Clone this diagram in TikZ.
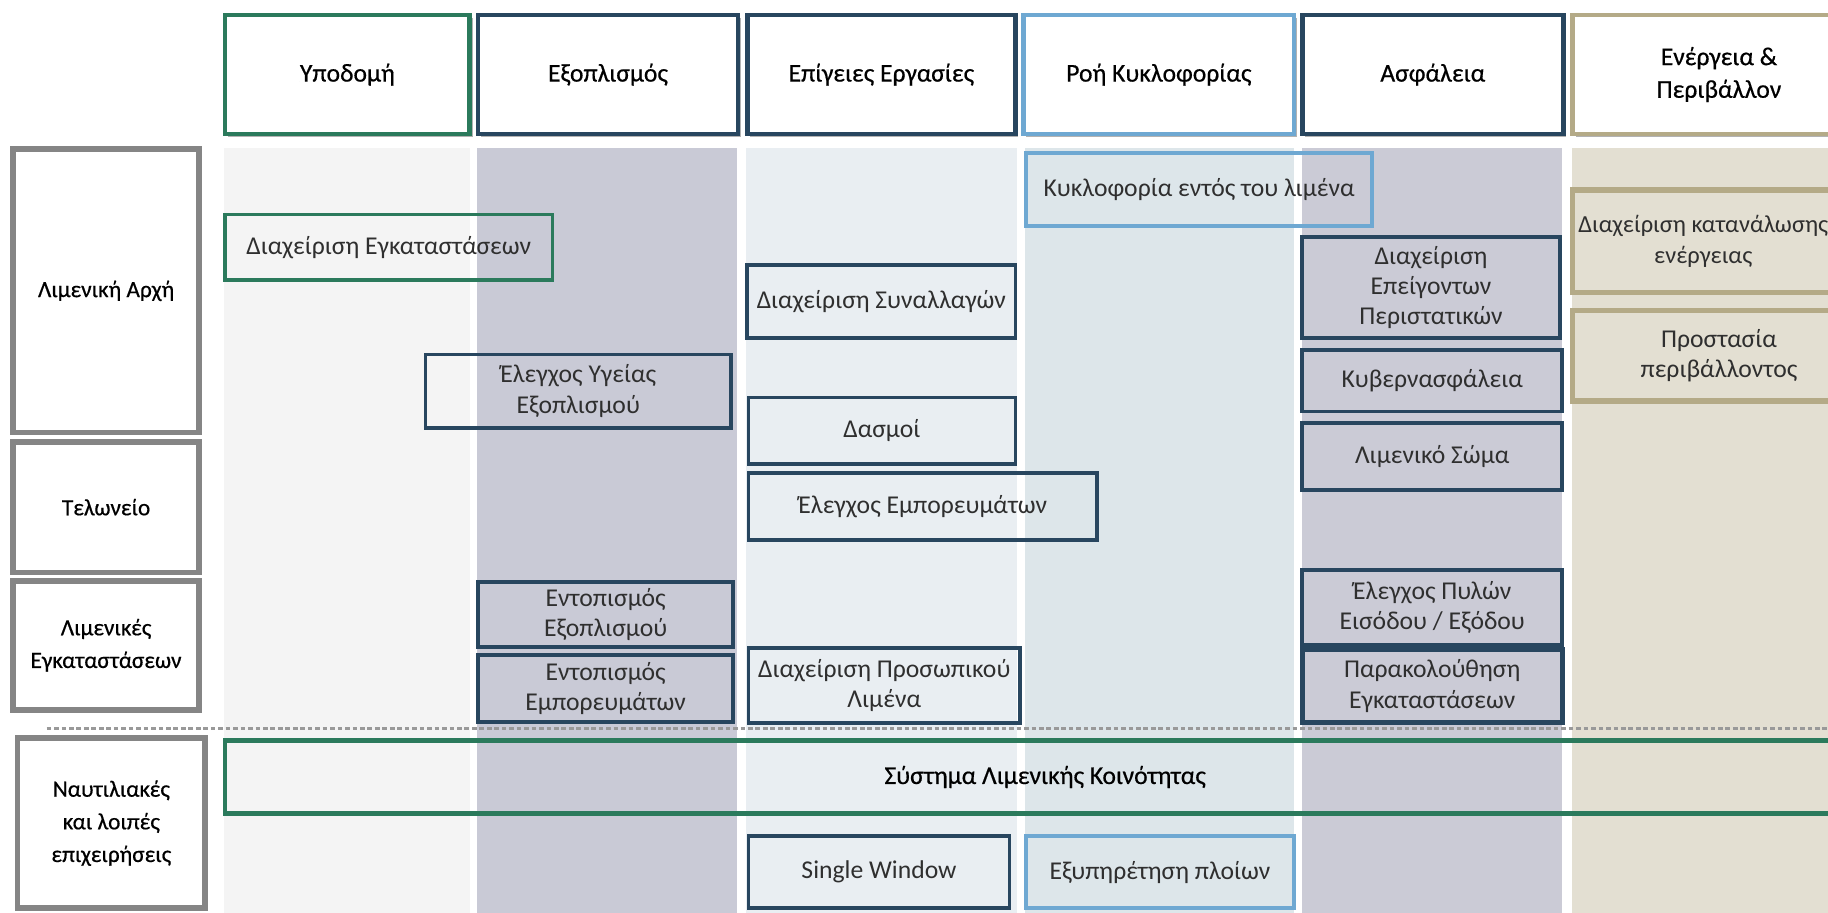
\documentclass[tikz,border=0pt]{standalone}
\usepackage{fontspec}
\setmainfont{Carlito}
\usetikzlibrary{shadows}

% frame colours
\definecolor{cgreen}{HTML}{2B7A5C}
\definecolor{cnavy}{HTML}{28465F}
\definecolor{csky}{HTML}{6EA8D2}
\definecolor{ctan}{HTML}{B4AA87}
\definecolor{cgrey}{HTML}{858585}
% lane fills
\definecolor{lane1}{HTML}{F4F4F4}
\definecolor{lane2}{HTML}{C9CAD6}
\definecolor{lane3}{HTML}{E9EEF2}
\definecolor{lane4}{HTML}{DDE6EA}
\definecolor{lane5}{HTML}{CBCBD6}
\definecolor{lane6}{HTML}{E3DFD2}
\definecolor{ctext}{HTML}{2F2F2F}

% place a named box by its corners (x1,y1) (x2,y2)
\newcommand\cellbox[7]{%
  \node[#2, minimum width={(#5-#3)*0.5pt}, minimum height={(#6-#4)*0.5pt}]
    (#1) at ({(#3+#5)/2},{(#4+#6)/2}) {#7};}

\begin{document}
\begin{tikzpicture}[x=0.5pt,y=-0.5pt,
  base/.style={draw, inner sep=0pt, outer sep=0pt, align=center,
    font=\fontsize{11}{13}\selectfont, text=ctext},
  softshadow/.style={drop shadow={shadow xshift=1.2pt, shadow yshift=-1.2pt,
    opacity=0.3, fill=black}},
  heavy/.style={font=\fontsize{11}{14}\selectfont\addfontfeature{FakeBold=0.5}},
  colhead/.style={base, line width=2pt, fill=white, softshadow, text=black, heavy},
  rowhead/.style={base, line width=2.5pt, draw=cgrey, fill=white, softshadow,
    text=black, font=\fontsize{10}{14}\selectfont\addfontfeature{FakeBold=0.5}},
  navybox/.style={base, line width=1.6pt, draw=cnavy},
  greenbox/.style={base, line width=1.6pt, draw=cgreen},
  skybox/.style={base, line width=1.6pt, draw=csky},
  tanbox/.style={base, line width=2.2pt, draw=ctan, fill=lane6, softshadow},
  lane/.style={draw=none, inner sep=0pt, outer sep=0pt},
  divider/.style={draw=gray!80, line width=1pt, dash pattern=on 2pt off 1.2pt}
]
\useasboundingbox (0,0) rectangle (1568,783);
\clip (0,0) rectangle (1568,783);

% lanes behind the grid
\cellbox{l1}{lane, fill=lane1}{192}{127}{403}{783}{}
\cellbox{l2}{lane, fill=lane2}{409}{127}{632}{783}{}
\cellbox{l3}{lane, fill=lane3}{640}{127}{872}{783}{}
\cellbox{l4}{lane, fill=lane4}{879}{127}{1110}{783}{}
\cellbox{l5}{lane, fill=lane5}{1117}{127}{1340}{783}{}
\cellbox{l6}{lane, fill=lane6}{1348}{127}{1580}{783}{}

% column headings
\cellbox{h1}{colhead, draw=cgreen}{193}{13}{403}{115}{Υποδομή}
\cellbox{h2}{colhead, draw=cnavy}{410}{13}{633}{115}{Εξοπλισμός}
\cellbox{h3}{colhead, draw=cnavy}{641}{13}{871}{115}{Επίγειες Εργασίες}
\cellbox{h4}{colhead, draw=csky}{878}{13}{1110}{115}{Ροή Κυκλοφορίας}
\cellbox{h5}{colhead, draw=cnavy}{1117}{13}{1341}{115}{Ασφάλεια}
\cellbox{h6}{colhead, draw=ctan}{1349}{13}{1600}{115}{Ενέργεια \&\\Περιβάλλον}

% row headings
\cellbox{r1}{rowhead}{11}{128}{171}{371}{Λιμενική Αρχή}
\cellbox{r2}{rowhead}{11}{379}{171}{491}{Τελωνείο}
\cellbox{r3}{rowhead}{11}{498}{171}{609}{Λιμενικές\\Εγκαταστάσεων}
\cellbox{r4}{rowhead}{15}{633}{176}{779}{Ναυτιλιακές\\και λοιπές\\επιχειρήσεις}

% separator above the business row
\coordinate (dl) at (40,625);
\coordinate (dr) at (1568,625);
\draw[divider] (dl) -- (dr);

% Υποδομή / Εξοπλισμός
\cellbox{infra}{greenbox}{193}{184}{474}{240}{Διαχείριση Εγκαταστάσεων}
\cellbox{health}{navybox}{365}{304}{627}{367}{Έλεγχος Υγείας\\Εξοπλισμού}
\cellbox{eqloc}{navybox}{410}{499}{629}{555}{Εντοπισμός\\Εξοπλισμού}
\cellbox{goodsloc}{navybox}{410}{562}{629}{619}{Εντοπισμός\\Εμπορευμάτων}

% Επίγειες Εργασίες
\cellbox{trans}{navybox}{641}{227}{871}{290}{Διαχείριση Συναλλαγών}
\cellbox{duty}{navybox}{642}{341}{871}{398}{Δασμοί}
\cellbox{goods}{navybox}{642}{406}{941}{463}{Έλεγχος Εμπορευμάτων}
\cellbox{staff}{navybox}{642}{556}{875}{620}{Διαχείριση Προσωπικού\\Λιμένα}

% Ροή Κυκλοφορίας
\cellbox{traffic}{skybox}{880}{131}{1177}{194}{Κυκλοφορία εντός του λιμένα}

% Ασφάλεια
\cellbox{emerg}{navybox}{1117}{203}{1338}{290}{Διαχείριση\\Επείγοντων\\Περιστατικών}
\cellbox{cyber}{navybox}{1117}{300}{1340}{353}{Κυβερνασφάλεια}
\cellbox{coast}{navybox}{1117}{363}{1340}{420}{Λιμενικό Σώμα}
\cellbox{gates}{navybox}{1117}{489}{1340}{553}{Έλεγχος Πυλών\\Εισόδου / Εξόδου}
\cellbox{watch}{navybox, line width=2.2pt}{1117}{557}{1340}{620}{Παρακολούθηση\\Εγκαταστάσεων}

% Ενέργεια & Περιβάλλον
\cellbox{energy}{tanbox, font=\fontsize{10.5}{13}\selectfont}{1349}{163}{1573}{251}{Διαχείριση κατανάλωσης\\ενέργειας}
\cellbox{envir}{tanbox}{1349}{266}{1600}{344}{Προστασία\\περιβάλλοντος}

% port community system and the business row
\cellbox{pcs}{greenbox, line width=2pt, text=black, heavy}{193}{635}{1600}{698}{Σύστημα Λιμενικής Κοινότητας}
\cellbox{window}{navybox}{642}{717}{866}{779}{Single Window}
\cellbox{ships}{skybox}{880}{717}{1110}{779}{Εξυπηρέτηση πλοίων}
\end{tikzpicture}
\end{document}
